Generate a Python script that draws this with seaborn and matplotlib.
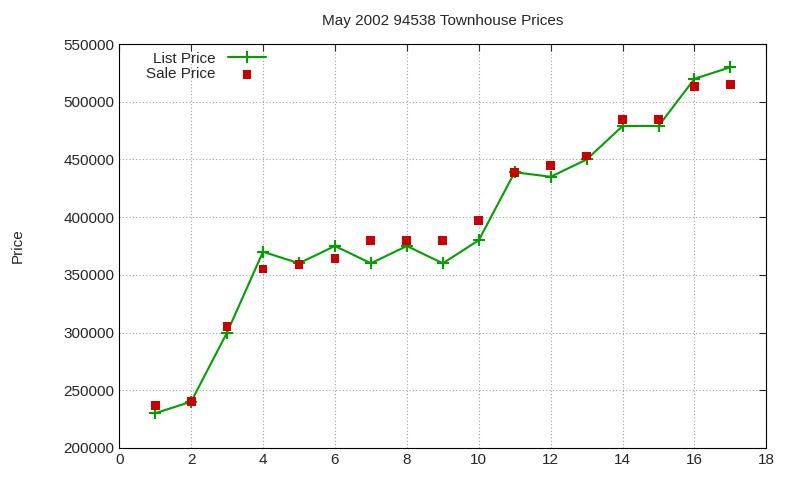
import matplotlib
matplotlib.use("Agg")
import matplotlib.pyplot as plt
import pandas as pd
import seaborn as sns

units = list(range(1, 18))
list_price = [230000, 240000, 300000, 370000, 360000, 375000, 360000, 375000, 360000,
              380000, 439000, 435000, 450000, 479000, 479000, 520000, 530000]
sale_price = [237000, 240000, 305000, 355000, 359000, 364000, 380000, 380000, 380000,
              397000, 439000, 445000, 453000, 485000, 485000, 513000, 515000]

df = pd.DataFrame({"unit": units, "list": list_price, "sale": sale_price})

sns.set_style("white")
plt.rcParams["font.family"] = ["Liberation Sans", "DejaVu Sans"]

fig = plt.figure(figsize=(8, 4.8), dpi=100)
ax = fig.add_axes([0.149, 0.067, 0.809, 0.841])

sns.lineplot(data=df, x="unit", y="list", ax=ax, color="#00a000", linewidth=1.5,
             marker="+", markersize=8, markeredgewidth=1.5, markeredgecolor="#00a000",
             label="List Price")
sns.scatterplot(data=df, x="unit", y="sale", ax=ax, color="#cc0000", marker="s", s=40,
                edgecolor="none", label="Sale Price", zorder=3)

ax.set_xlim(0, 18)
ax.set_ylim(200000, 550000)
ax.set_xticks(range(0, 19, 2))
ax.set_yticks(range(200000, 550001, 50000))
ax.set_yticklabels([str(v) for v in range(200000, 550001, 50000)])
ax.grid(True, color="#a0a0a0", linestyle=(0, (1, 2)), linewidth=0.8)
for s in ax.spines.values():
    s.set_color("black")
    s.set_linewidth(0.8)
ax.tick_params(direction="in", length=5, labelsize=11, top=True, right=True)
ax.set_xlabel("")
ax.set_ylabel("Price", rotation=90, fontsize=11, labelpad=28)
ax.set_title("May 2002 94538 Townhouse Prices", fontsize=11, pad=14)
ax.legend(loc="upper left", frameon=False, markerfirst=False, fontsize=11,
          handlelength=2.5, borderaxespad=0.1, labelspacing=0.1, bbox_to_anchor=(0.03, 1.0))

fig.savefig("out.png", dpi=100)
